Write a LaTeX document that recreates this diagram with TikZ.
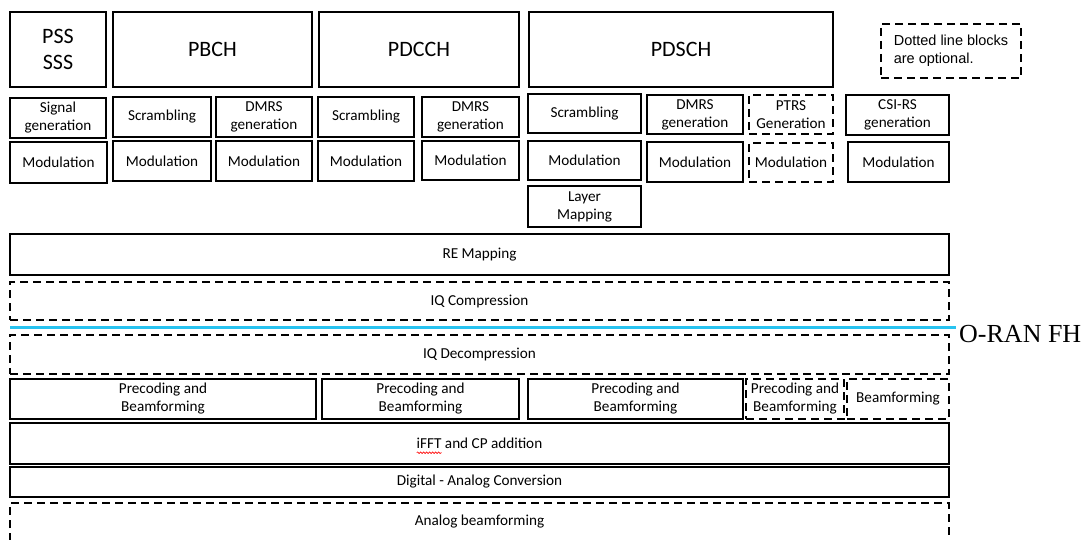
\documentclass[tikz,border=0pt]{standalone}
\usepackage{fontspec}
\setmainfont{Carlito}
\newfontfamily\notefont{Liberation Sans}
\newfontfamily\fhfont{Liberation Serif}
\usetikzlibrary{decorations.pathmorphing}
\definecolor{fhcyan}{RGB}{40,195,240}
\newcommand\bodyfont{\fontsize{15.2}{18}\selectfont}
\tikzset{
  blk/.style={draw, line width=1.8pt, inner sep=0pt, outer sep=0pt, align=center,
    font=\bodyfont},
  optblk/.style={blk, dash pattern=on 8pt off 5pt},
  optline/.style={line width=1.8pt, dash pattern=on 8pt off 5pt},
  hdr/.style={blk, font=\fontsize{22}{26}\selectfont},
  fhline/.style={draw=fhcyan, line width=3pt},
  txt/.style={inner sep=0pt, outer sep=0pt, font=\bodyfont},
  squig/.style={draw=red, line width=0.6pt, decorate, decoration={snake, segment length=3pt, amplitude=0.8pt}},
}
\newcommand\blkbox[7]{\node[#6, minimum width={(#4)-(#2)}, minimum height={(#5)-(#3)}] (#1) at ({((#2)+(#4))/2},{((#3)+(#5))/2}) {#7};}
\begin{document}
\begin{tikzpicture}[x=1pt,y=-1pt]
\useasboundingbox (0,0) rectangle (1083,540);
% top row
\blkbox{pss}{10}{12}{106}{87}{hdr}{PSS\\SSS}
\blkbox{pbch}{113}{12}{312}{87}{hdr}{PBCH}
\blkbox{pdcch}{319}{12}{519}{87}{hdr}{PDCCH}
\blkbox{pdsch}{529}{12}{833}{87}{hdr}{PDSCH}
\blkbox{note}{881}{24}{1021}{78}{optblk, font=\notefont\fontsize{14.5}{18}\selectfont, align=left}{Dotted line blocks\\are optional.}
% second row
\blkbox{sig}{10}{98}{106}{138}{blk}{Signal\\generation}
\blkbox{scrA}{113}{97}{211}{137}{blk}{Scrambling}
\blkbox{dmrsA}{216}{97}{312}{137}{blk}{DMRS\\generation}
\blkbox{scrB}{318}{97}{414}{137}{blk}{Scrambling}
\blkbox{dmrsB}{422}{97}{519}{137}{blk}{DMRS\\generation}
\blkbox{scrC}{528}{94}{641}{133}{blk}{Scrambling}
\blkbox{dmrsC}{647}{95}{743}{134}{blk}{DMRS\\generation}
\blkbox{ptrs}{749}{95}{833}{134}{optblk}{PTRS\\Generation}
\blkbox{csi}{846}{95}{949}{135}{blk}{CSI-RS\\generation}
% modulation row
\blkbox{modA}{10}{142}{107}{183}{blk}{Modulation}
\blkbox{modB}{113}{141}{211}{181}{blk}{Modulation}
\blkbox{modC}{216}{141}{312}{181}{blk}{Modulation}
\blkbox{modD}{318}{141}{414}{181}{blk}{Modulation}
\blkbox{modE}{422}{141}{519}{180}{blk}{Modulation}
\blkbox{modF}{528}{141}{641}{180}{blk}{Modulation}
\blkbox{modG}{647}{142}{743}{182}{blk}{Modulation}
\blkbox{modH}{749}{143}{833}{182}{optblk}{Modulation}
\blkbox{modI}{848}{142}{949}{182}{blk}{Modulation}
\blkbox{layer}{528}{186}{641}{227}{blk}{Layer\\Mapping}
% wide blocks
\blkbox{re}{10}{234}{949}{275}{blk}{RE Mapping}
\blkbox{iqc}{10}{282}{949}{320}{optblk}{IQ Compression}
\blkbox{iqd}{10}{335}{949}{374}{optblk}{IQ Decompression}
% fronthaul line
\coordinate (fhL) at (10,327);
\node[anchor=west, inner sep=0pt, font=\fhfont\fontsize{26}{30}\selectfont] (fh) at (959,334) {O-RAN FH};
\draw[fhline] (fhL) -- ([xshift=-3pt]fhL -| fh.west);
% precoding row
\blkbox{preA}{10}{379}{316}{419}{blk}{Precoding and\\Beamforming}
\blkbox{preB}{322}{379}{519}{419}{blk}{Precoding and\\Beamforming}
\blkbox{preC}{528}{379}{743}{419}{blk}{Precoding and\\Beamforming}
\blkbox{preD}{746}{379}{844}{419}{optblk}{Precoding and\\Beamforming}
\blkbox{bf}{847}{379}{949}{419}{optblk}{Beamforming}
\blkbox{ifft}{10}{423}{949}{464}{blk}{}
\node[txt] (ifftT) at (ifft.center) {iFFT and CP addition};
\node[txt, anchor=base west] (ifftW) at (ifftT.base west) {\phantom{iFFT}};
\draw[squig] ([yshift=-4pt]ifftW.base west) -- ([yshift=-4pt]ifftW.base east);
\blkbox{dac}{10}{467}{949}{497}{blk}{Digital - Analog Conversion}
\blkbox{ab}{10}{503}{949}{541}{blk, draw=none}{Analog beamforming}
\draw[optline] (ab.south west) |- (ab.north east) -- (ab.south east);
\end{tikzpicture}
\end{document}
